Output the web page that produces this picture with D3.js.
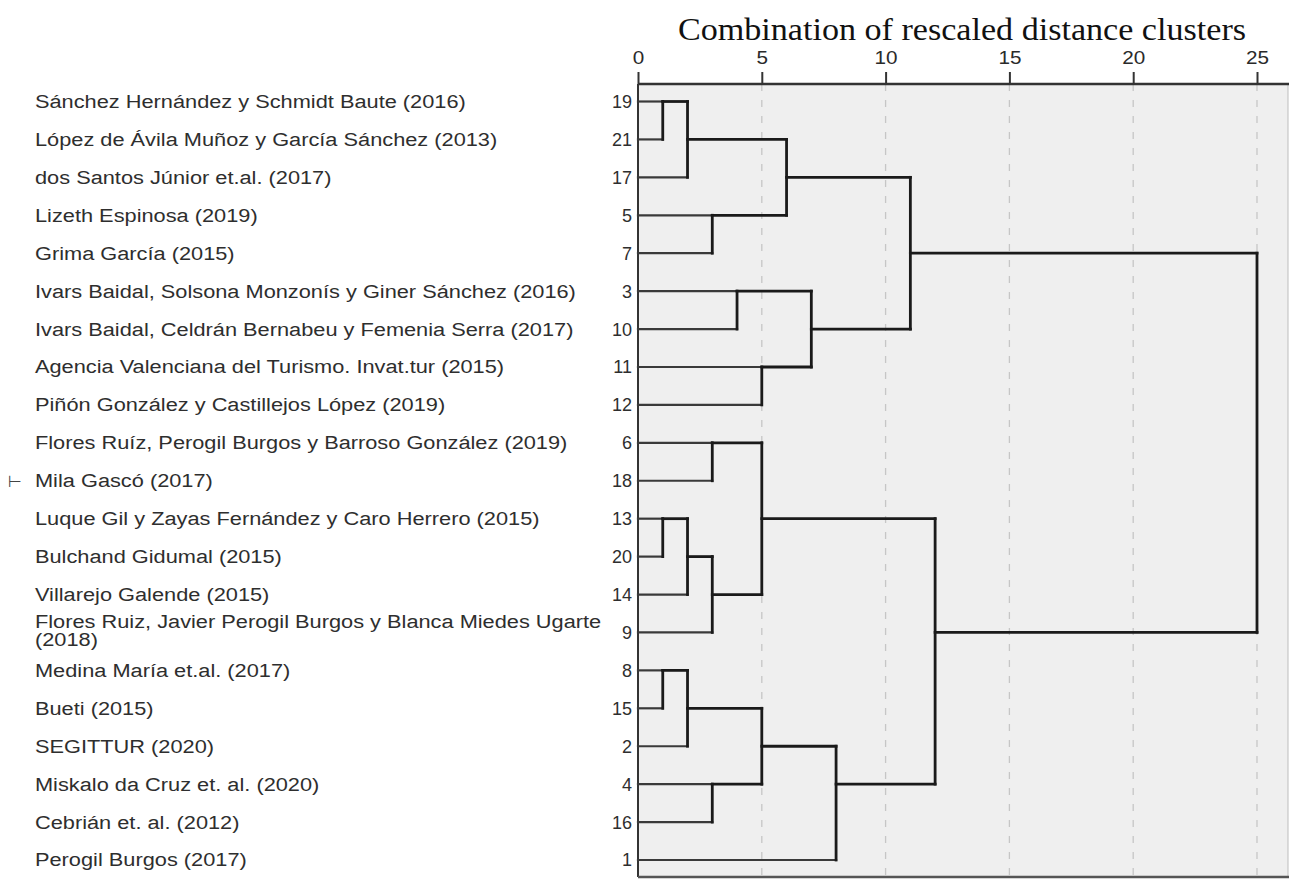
<!DOCTYPE html>
<html>
<head>
<meta charset="utf-8">
<script src="https://cdn.jsdelivr.net/npm/d3@7"></script>
<style>
  body { margin: 0; background: #fff; }
  svg { display: block; }
</style>
</head>
<body>
<div id="chart"></div>
<script>
// leaf order, top to bottom, as SPSS printed it
var caseIds = [19, 21, 17, 5, 7, 3, 10, 11, 12, 6, 18, 13, 20, 14, 9, 8, 15, 2, 4, 16, 1];

var caseLabels = [
  "Sánchez Hernández y Schmidt Baute (2016)",
  "López de Ávila Muñoz y García Sánchez (2013)",
  "dos Santos Júnior et.al. (2017)",
  "Lizeth Espinosa (2019)",
  "Grima García (2015)",
  "Ivars Baidal,  Solsona Monzonís y Giner Sánchez (2016)",
  "Ivars Baidal, Celdrán Bernabeu y Femenia Serra (2017)",
  "Agencia Valenciana del Turismo. Invat.tur (2015)",
  "Piñón González y Castillejos López (2019)",
  "Flores Ruíz, Perogil Burgos y Barroso González (2019)",
  "Mila Gascó (2017)",
  "Luque Gil y Zayas Fernández y Caro Herrero (2015)",
  "Bulchand Gidumal (2015)",
  "Villarejo Galende (2015)",
  "Flores Ruiz, Javier Perogil Burgos y Blanca Miedes Ugarte|(2018)",
  "Medina María  et.al. (2017)",
  "Bueti (2015)",
  "SEGITTUR (2020)",
  "Miskalo da Cruz et. al. (2020)",
  "Cebrián et. al. (2012)",
  "Perogil Burgos (2017)"
];

// merge steps: [left, right, rescaled distance]
// a number is a case id, "m#" points to an earlier step
var merges = [
  [19, 21, 1],
  ["m0", 17, 2],
  [5, 7, 3],
  ["m1", "m2", 6],
  [3, 10, 4],
  [11, 12, 5],
  ["m4", "m5", 7],
  ["m3", "m6", 11],
  [6, 18, 3],
  [13, 20, 1],
  ["m9", 14, 2],
  ["m10", 9, 3],
  ["m8", "m11", 5],
  [8, 15, 1],
  ["m13", 2, 2],
  [4, 16, 3],
  ["m14", "m15", 5],
  ["m16", 1, 8],
  ["m12", "m17", 12],
  ["m7", "m18", 25]
];

var tickValues = [0, 5, 10, 15, 20, 25];
var title = "Combination of rescaled distance clusters";

var width = 1289, height = 879;
var plotLeft = 638, plotRight = 1288, plotTop = 84, plotBottom = 877;
var stretch = 1.21; // the source image is squeezed wider than normal type

var svg = d3.select("#chart").append("svg")
  .attr("width", width)
  .attr("height", height)
  .style("background", "#fff");

var x = d3.scaleLinear().domain([0, 25]).range([plotLeft, 1257]);
var rows = d3.scaleLinear().domain([0, caseIds.length - 1]).range([101.5, 860]);

// background panel
svg.append("rect")
  .attr("x", plotLeft).attr("y", plotTop)
  .attr("width", plotRight - plotLeft).attr("height", plotBottom - plotTop)
  .attr("fill", "#efefef")
  .attr("stroke", "none");

// dashed grid
svg.append("g").selectAll("line")
  .data(tickValues.slice(1))
  .join("line")
  .attr("x1", d => x(d)).attr("x2", d => x(d))
  .attr("y1", plotTop).attr("y2", plotBottom)
  .attr("stroke", "#c6c6c6")
  .attr("stroke-width", 1.3)
  .attr("stroke-dasharray", "7,9");

// frame
svg.append("line").attr("x1", plotRight).attr("x2", plotRight)
  .attr("y1", plotTop).attr("y2", plotBottom)
  .attr("stroke", "#bdbdbd").attr("stroke-width", 1);
svg.append("line").attr("x1", plotLeft).attr("x2", plotLeft)
  .attr("y1", plotTop).attr("y2", plotBottom)
  .attr("stroke", "#333").attr("stroke-width", 2);
svg.append("line").attr("x1", plotLeft).attr("x2", plotRight + 1)
  .attr("y1", plotBottom).attr("y2", plotBottom)
  .attr("stroke", "#555").attr("stroke-width", 2.5);

// top axis
var axis = svg.append("g")
  .attr("transform", "translate(0," + plotTop + ")")
  .call(d3.axisTop(x).tickValues(tickValues).tickSize(12).tickPadding(8));
axis.select(".domain").remove();
axis.selectAll(".tick line").attr("stroke", "#333").attr("stroke-width", 2);
axis.selectAll(".tick text")
  .attr("font-family", "'Liberation Sans', Arial, sans-serif")
  .attr("font-size", 18)
  .attr("fill", "#2a2a2a")
  .attr("transform", "scale(1.15,1)")
  .attr("x", 0);
svg.append("line").attr("x1", plotLeft).attr("x2", width)
  .attr("y1", plotTop).attr("y2", plotTop)
  .attr("stroke", "#333").attr("stroke-width", 2.5);

svg.append("text")
  .attr("transform", "translate(962,40) scale(1.1,1)")
  .attr("text-anchor", "middle")
  .attr("font-family", "'Liberation Serif', 'Times New Roman', serif")
  .attr("font-size", 31)
  .attr("fill", "#111")
  .text(title);

// work out row positions of every cluster, SPSS style
var nodes = {};
caseIds.forEach(function (id, i) { nodes[id] = { row: i, dist: 0 }; });
var links = [];
merges.forEach(function (m, i) {
  var a = nodes[m[0]], b = nodes[m[1]];
  var node = { row: Math.floor((a.row + b.row) / 2), dist: m[2] };
  nodes["m" + i] = node;
  links.push({ type: "v", x: m[2], r1: a.row, r2: b.row });
  links.push({ type: "h", x1: a.dist, x2: m[2], r: a.row, leaf: a.dist === 0 });
  links.push({ type: "h", x1: b.dist, x2: m[2], r: b.row, leaf: b.dist === 0 });
});

var tree = svg.append("g").attr("fill", "none").attr("stroke-linecap", "square");
tree.selectAll("line.h")
  .data(links.filter(d => d.type === "h"))
  .join("line")
  .attr("class", "h")
  .attr("x1", d => x(d.x1)).attr("x2", d => x(d.x2))
  .attr("y1", d => rows(d.r)).attr("y2", d => rows(d.r))
  .attr("stroke", d => d.leaf ? "#3a3a3a" : "#1a1a1a")
  .attr("stroke-width", d => d.leaf ? 2.2 : 2.8);
tree.selectAll("line.v")
  .data(links.filter(d => d.type === "v"))
  .join("line")
  .attr("class", "v")
  .attr("x1", d => x(d.x)).attr("x2", d => x(d.x))
  .attr("y1", d => rows(d.r1)).attr("y2", d => rows(d.r2))
  .attr("stroke", "#1a1a1a")
  .attr("stroke-width", 2.8);

// case numbers
svg.append("g").selectAll("text")
  .data(caseIds)
  .join("text")
  .attr("x", 632)
  .attr("y", (d, i) => rows(i))
  .attr("dy", "0.36em")
  .attr("text-anchor", "end")
  .attr("font-family", "'Liberation Sans', Arial, sans-serif")
  .attr("font-size", 18)
  .attr("fill", "#2e2e2e")
  .text(d => d);

// case labels (one of them wraps)
var lab = svg.append("g")
  .attr("transform", "scale(" + stretch + ",1)")
  .selectAll("text")
  .data(caseLabels)
  .join("text")
  .attr("y", (d, i) => rows(i))
  .attr("font-family", "'Liberation Sans', Arial, sans-serif")
  .attr("font-size", 18)
  .attr("fill", "#2e2e2e");
lab.each(function (d) {
  var parts = d.split("|");
  var t = d3.select(this);
  parts.forEach(function (p, k) {
    t.append("tspan")
      .attr("x", 35 / stretch)
      .attr("dy", k === 0 ? (parts.length > 1 ? "-0.22em" : "0.36em") : "0.98em")
      .text(p);
  });
});

// stray mark left of "Mila Gascó"
svg.append("text")
  .attr("x", 8).attr("y", rows(caseIds.indexOf(18)))
  .attr("dy", "0.36em")
  .attr("font-family", "'DejaVu Sans', sans-serif")
  .attr("font-size", 16)
  .attr("fill", "#444")
  .text("⊢");
</script>
</body>
</html>
